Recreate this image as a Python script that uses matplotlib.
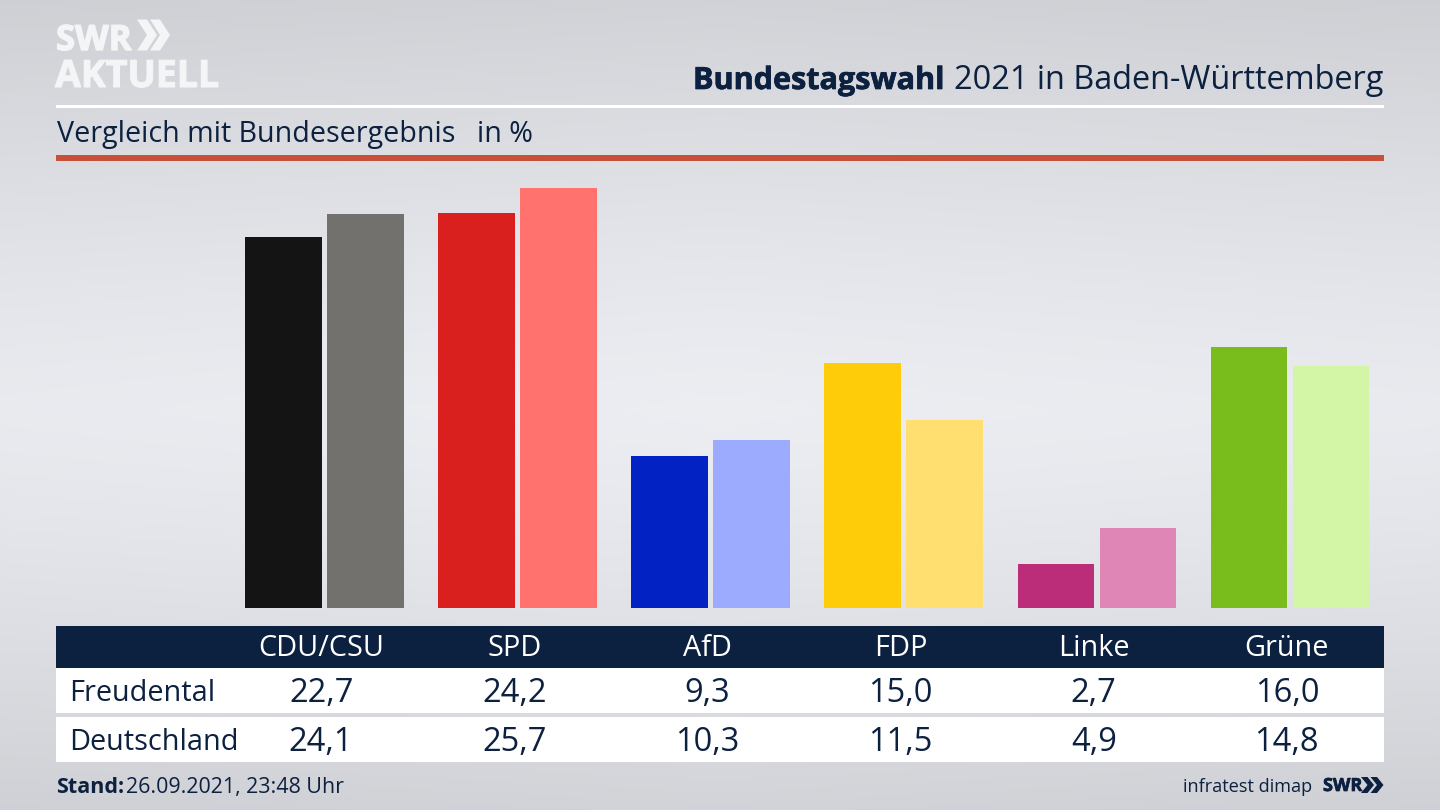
import numpy as np
import matplotlib
matplotlib.use("Agg")
import matplotlib.pyplot as plt
import matplotlib.patheffects as pe
from matplotlib.patches import Rectangle, Polygon

parties = ["CDU/CSU", "SPD", "AfD", "FDP", "Linke", "Grüne"]
freudental = [22.7, 24.2, 9.3, 15.0, 2.7, 16.0]
deutschland = [24.1, 25.7, 10.3, 11.5, 4.9, 14.8]
colors_local = ["#141414", "#d9201e", "#0222c4", "#ffcc0a", "#bb2d78", "#79bd1c"]
colors_national = ["#72716e", "#ff726d", "#9dabff", "#ffdf70", "#df86b6", "#d3f6a6"]
row_names = ["Freudental", "Deutschland"]

NAVY = "#0c203f"
LOGO = "#f4f5f6"
W, H = 1440, 810
plt.rcParams["font.family"] = ["Open Sans", "DejaVu Sans"]

fig = plt.figure(figsize=(14.4, 8.1), dpi=100)

# background
bg = fig.add_axes([0, 0, 1, 1], zorder=0)
bg.set_xlim(0, W); bg.set_ylim(H, 0); bg.axis("off")
yy, xx = np.mgrid[0:H, 0:W]
d = np.abs(yy - 410) / 410
e = np.abs(xx - 720) / 720
shade = 0.925 - 0.105 * d ** 1.3 - 0.012 * e
img = np.dstack([shade, shade + 0.006, shade + 0.024])
bg.imshow(np.clip(img, 0, 1), extent=(0, W, H, 0), aspect="auto", zorder=0)

def rect(x0, y0, x1, y1, c):
    bg.add_patch(Rectangle((x0, y0), x1 - x0, y1 - y0, fc=c, ec="none", zorder=1))

# header rules and table bands
rect(56, 104.5, 1384, 107.5, "#ffffff")
rect(56, 155, 1384, 160.5, "#c8503a")
rect(56, 626, 1384, 668, NAVY)
rect(56, 668, 1384, 713, "#ffffff")
rect(56, 717, 1384, 762, "#ffffff")

def heavy(width, c):
    return [pe.withStroke(linewidth=width, foreground=c)]

# logo
bg.text(56, 50, "SWR", color=LOGO, fontsize=25, fontweight="bold", va="baseline",
        path_effects=heavy(1.0, LOGO))
bg.text(55, 87, "AKTUELL", color=LOGO, fontsize=27, fontweight="bold", va="baseline",
        path_effects=heavy(0.8, LOGO))

def chevrons(x, y, h, w, gap, c):
    for k in range(2):
        x0 = x + k * gap
        bg.add_patch(Polygon([(x0, y - h / 2), (x0 + w * .5, y - h / 2), (x0 + w, y),
                              (x0 + w * .5, y + h / 2), (x0, y + h / 2), (x0 + w * .5, y)],
                             fc=c, ec="none", zorder=2))
chevrons(137, 35, 31, 20, 13, LOGO)
chevrons(1361, 785, 16, 13, 9.5, NAVY)

# titles
bg.text(693, 89, "Bundestagswahl", color=NAVY, fontsize=22, fontweight="bold", va="baseline",
        ha="left", path_effects=heavy(0.5, NAVY))
bg.text(1383, 89, "2021 in Baden-Württemberg", color=NAVY, fontsize=23.4, va="baseline", ha="right")
bg.text(57, 142, "Vergleich mit Bundesergebnis", color=NAVY, fontsize=20.65, va="baseline")
bg.text(477, 142, "in %", color=NAVY, fontsize=20.65, va="baseline")

# bars
slot = 193.15
x_zero = 324.3
base, top = 608, 160
scale = 16.33
ax = fig.add_axes([56 / W, 1 - base / H, (1384 - 56) / W, (base - top) / H], zorder=1)
ax.patch.set_alpha(0)
ax.axis("off")
ax.set_xlim((56 - x_zero) / slot, (1384 - x_zero) / slot)
ax.set_ylim(0, (base - top) / scale)
x = np.arange(len(parties))
bw = 76.7 / slot
off = 41 / slot
ax.bar(x - off, freudental, width=bw, color=colors_local)
ax.bar(x + off, deutschland, width=bw, color=colors_national)

# table text
xpix = x_zero + x * slot
for xp, p, a, b in zip(xpix, parties, freudental, deutschland):
    bg.text(xp - 3.2, 656, p, color="#ffffff", fontsize=20.8, ha="center", va="baseline", zorder=3)
    bg.text(xp - 3.2, 702, f"{a:.1f}".replace(".", ","), color=NAVY, fontsize=23.5, ha="center", va="baseline", zorder=3)
    bg.text(xp - 3.2, 751, f"{b:.1f}".replace(".", ","), color=NAVY, fontsize=23.5, ha="center", va="baseline", zorder=3)
bg.text(69.5, 701, row_names[0], color=NAVY, fontsize=20.8, va="baseline", zorder=3)
bg.text(69.5, 750, row_names[1], color=NAVY, fontsize=20.8, va="baseline", zorder=3)

# footer
bg.text(56, 793, "Stand:", color=NAVY, fontsize=15.5, fontweight="bold", va="baseline")
bg.text(126, 793, "26.09.2021, 23:48 Uhr", color=NAVY, fontsize=15.4, va="baseline")
bg.text(1312, 792, "infratest dimap", color=NAVY, fontsize=13.1, va="baseline", ha="right")
bg.text(1323, 791, "SWR", color=NAVY, fontsize=13, fontweight="bold", va="baseline",
        path_effects=heavy(0.5, NAVY))

fig.savefig("out.png", dpi=100)
